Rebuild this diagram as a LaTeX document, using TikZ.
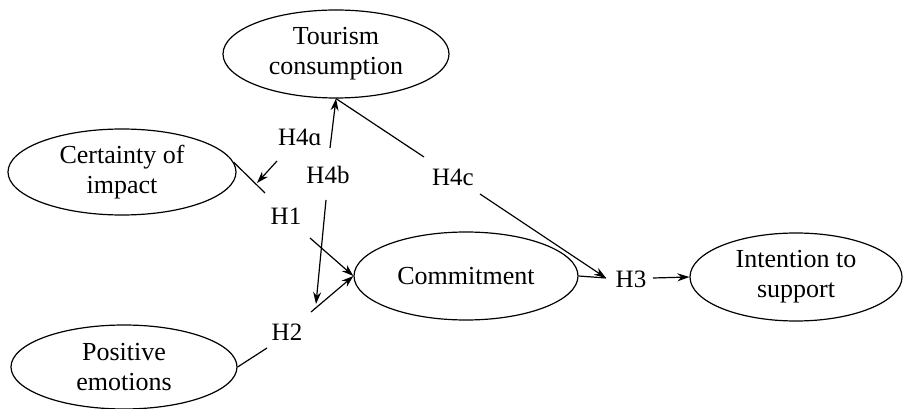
\documentclass[tikz,border=0pt]{standalone}
\usepackage{fontspec}
\setmainfont{Liberation Serif}
\usetikzlibrary{shapes.geometric,arrows.meta}
\begin{document}
\begin{tikzpicture}[x=1pt,y=-1pt,
  every path/.style={line width=1.2pt},
  var/.style={draw,ellipse,inner sep=0pt,align=center,font=\fontsize{26}{30}\selectfont},
  hyp/.style={inner sep=1pt,font=\fontsize{25}{28}\selectfont},
  arr/.style={-{Stealth[length=12pt,width=8pt]}}]
\useasboundingbox (0,0) rectangle (903,409);
\node[var,minimum width=226pt,minimum height=88pt] (tour) at (336,54) {Tourism\\consumption};
\node[var,minimum width=228pt,minimum height=86pt] (cert) at (122,172) {Certainty of\\impact};
\node[var,minimum width=226pt,minimum height=84pt] (pos) at (124,367) {Positive\\emotions};
\node[var,minimum width=224pt,minimum height=88pt] (comm) at (466,276) {Commitment};
\node[var,minimum width=212pt,minimum height=88pt] (int) at (796,277) {Intention to\\support};
\node[hyp] (h4a) at (300,137) {H4ɑ};
\node[hyp] (h4b) at (328,175) {H4b};
\node[hyp] (h4c) at (453,177) {H4c};
\node[hyp] (h1) at (286,216) {H1};
\node[hyp] (h2) at (287,332) {H2};
\node[hyp] (h3) at (631,279) {H3};
% break points
\coordinate (a1) at (330,148);
\coordinate (a2) at (277,161);
\coordinate (a3) at (257,183);
\coordinate (c1) at (424,157);
\coordinate (c2) at (480,194);
\coordinate (t3) at (606,278);
\coordinate (m1) at (265,193);
\coordinate (m2) at (310,238);
\coordinate (p1) at (267,348);
\coordinate (p2) at (311,312);
\coordinate (b1) at (326,200);
\coordinate (b2) at (316,304);
\coordinate (h3r) at (653,278);
% H1
\draw (cert.5) -- (m1);
\draw[arr] (m2) -- (comm.west);
% H2
\draw (pos.east) -- (p1);
\draw[arr] (p2) -- (comm.west);
% H4a
\draw[arr] (a1) -- (tour.south);
\draw[arr] (a2) -- (a3);
% H4b
\draw[arr] (b1) -- (b2);
% H4c
\draw (tour.south) -- (c1);
\draw[arr] (c2) -- (t3);
% H3
\draw (comm.east) -- (t3);
\draw[arr] (h3r) -- (int.west);
\end{tikzpicture}
\end{document}
